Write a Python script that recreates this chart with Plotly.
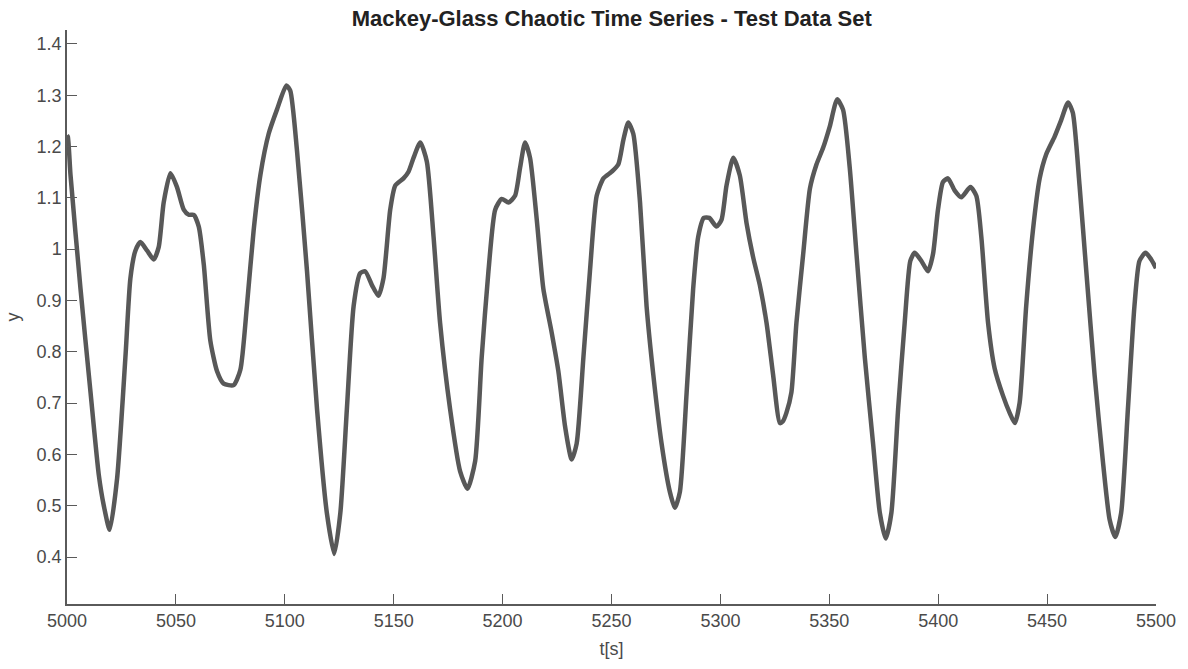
import plotly.graph_objects as go

# Mackey-Glass test segment, t in seconds and y values
t = [5000.0, 5000.4, 5001.6, 5006.2, 5010.8, 5014.6, 5016.9, 5019.6, 5023.0, 5026.8,
     5029.1, 5031.4, 5033.7, 5036.8, 5039.8, 5042.1, 5044.4, 5047.5, 5050.5, 5053.6,
     5055.9, 5058.2, 5060.5, 5062.8, 5065.8, 5068.9, 5071.9, 5076.5, 5079.6, 5082.6,
     5085.7, 5088.8, 5092.6, 5096.4, 5100.7, 5102.5, 5105.6, 5110.2, 5114.8, 5119.3,
     5122.7, 5125.5, 5128.5, 5131.6, 5134.6, 5136.9, 5140.0, 5143.0, 5145.3, 5148.4,
     5150.7, 5154.5, 5156.8, 5159.1, 5162.2, 5165.2, 5168.3, 5171.3, 5175.9, 5180.5,
     5183.9, 5187.4, 5190.4, 5193.5, 5196.6, 5199.6, 5202.7, 5205.7, 5208.0, 5210.3,
     5212.6, 5215.7, 5218.7, 5222.6, 5225.6, 5228.7, 5231.7, 5234.0, 5237.1, 5240.1,
     5243.2, 5246.3, 5250.1, 5253.1, 5255.4, 5257.7, 5260.0, 5263.1, 5266.1, 5269.2,
     5273.0, 5276.8, 5279.1, 5281.4, 5284.5, 5287.5, 5289.8, 5292.4, 5294.9, 5298.2,
     5300.5, 5302.8, 5305.9, 5308.9, 5312.0, 5315.1, 5318.1, 5321.2, 5324.2, 5327.3,
     5328.6, 5330.3, 5332.6, 5334.9, 5338.0, 5341.1, 5344.1, 5347.2, 5350.2, 5353.6,
     5356.3, 5359.4, 5362.5, 5366.3, 5370.1, 5373.2, 5375.9, 5378.5, 5381.6, 5384.6,
     5387.2, 5389.2, 5392.3, 5395.3, 5397.6, 5399.9, 5402.2, 5404.5, 5407.6, 5410.6,
     5414.8, 5417.5, 5419.8, 5422.9, 5425.9, 5429.7, 5432.8, 5435.2, 5437.4, 5440.4,
     5443.5, 5446.6, 5449.6, 5453.4, 5456.5, 5459.6, 5461.8, 5464.9, 5468.0, 5471.8,
     5475.6, 5478.7, 5481.3, 5484.0, 5487.1, 5490.1, 5492.4, 5495.2, 5497.8, 5500.0]

y = [1.222, 1.219, 1.145, 0.923, 0.721, 0.560, 0.500, 0.453, 0.553, 0.788,
     0.943, 0.997, 1.014, 0.997, 0.980, 1.004, 1.091, 1.148, 1.121, 1.077,
     1.067, 1.067, 1.044, 0.970, 0.822, 0.762, 0.738, 0.735, 0.765, 0.889,
     1.037, 1.145, 1.225, 1.272, 1.319, 1.309, 1.192, 0.957, 0.688, 0.486,
     0.406, 0.486, 0.688, 0.889, 0.953, 0.957, 0.930, 0.909, 0.943, 1.077,
     1.124, 1.138, 1.151, 1.178, 1.208, 1.171, 1.024, 0.856, 0.688, 0.567,
     0.533, 0.587, 0.789, 0.957, 1.077, 1.098, 1.091, 1.104, 1.158, 1.208,
     1.178, 1.057, 0.923, 0.836, 0.762, 0.654, 0.590, 0.621, 0.789, 0.957,
     1.104, 1.138, 1.151, 1.165, 1.212, 1.247, 1.225, 1.091, 0.889, 0.755,
     0.621, 0.527, 0.496, 0.527, 0.721, 0.923, 1.024, 1.061, 1.061, 1.044,
     1.057, 1.124, 1.178, 1.144, 1.051, 0.983, 0.930, 0.856, 0.755, 0.661,
     0.664, 0.681, 0.721, 0.856, 0.990, 1.118, 1.165, 1.198, 1.239, 1.292,
     1.272, 1.158, 0.990, 0.789, 0.621, 0.486, 0.436, 0.486, 0.688, 0.856,
     0.977, 0.993, 0.977, 0.957, 0.990, 1.077, 1.131, 1.138, 1.114, 1.101,
     1.121, 1.104, 1.024, 0.856, 0.768, 0.715, 0.681, 0.661, 0.701, 0.889,
     1.037, 1.138, 1.185, 1.219, 1.252, 1.286, 1.266, 1.124, 0.957, 0.755,
     0.587, 0.473, 0.439, 0.486, 0.688, 0.889, 0.977, 0.993, 0.980, 0.963]

x_ticks = [5000, 5050, 5100, 5150, 5200, 5250, 5300, 5350, 5400, 5450, 5500]
y_ticks = [0.4, 0.5, 0.6, 0.7, 0.8, 0.9, 1.0, 1.1, 1.2, 1.3, 1.4]
y_tick_text = ["0.4", "0.5", "0.6", "0.7", "0.8", "0.9", "1", "1.1", "1.2", "1.3", "1.4"]

FONT = "Arial, 'Liberation Sans', Helvetica, sans-serif"
AXIS_COLOR = "#5a5a5a"

fig = go.Figure(
    go.Scatter(
        x=t, y=y, mode="lines",
        line=dict(color="#585858", width=4.5, shape="spline", smoothing=0.6),
        showlegend=False,
    )
)

fig.update_layout(
    width=1188, height=669,
    margin=dict(l=66, r=31, t=30, b=65),
    paper_bgcolor="white", plot_bgcolor="white",
    font=dict(family=FONT, size=18, color="#4a4a4a"),
    title=dict(
        text="<b>Mackey-Glass Chaotic Time Series - Test Data Set</b>",
        x=0.5149, xanchor="center", y=0.972, yanchor="middle",
        font=dict(family=FONT, size=22, color="#222222"),
    ),
)

fig.update_xaxes(
    range=[5000, 5500], tickvals=x_ticks, ticktext=[str(v) for v in x_ticks],
    showgrid=False, zeroline=False,
    showline=True, linecolor=AXIS_COLOR, linewidth=1.5,
    ticks="inside", ticklen=10, tickwidth=1, tickcolor=AXIS_COLOR,
    tickfont=dict(size=18),
    title=dict(text="t[s]", standoff=12, font=dict(size=18)),
)
fig.update_yaxes(
    range=[0.3084, 1.4272], tickvals=y_ticks, ticktext=y_tick_text,
    showgrid=False, zeroline=False,
    showline=True, linecolor=AXIS_COLOR, linewidth=1.5,
    ticks="inside", ticklen=10, tickwidth=1, tickcolor=AXIS_COLOR,
    tickfont=dict(size=18),
    title=dict(text="y", standoff=12, font=dict(size=18)),
)

fig.write_html("out.html")
